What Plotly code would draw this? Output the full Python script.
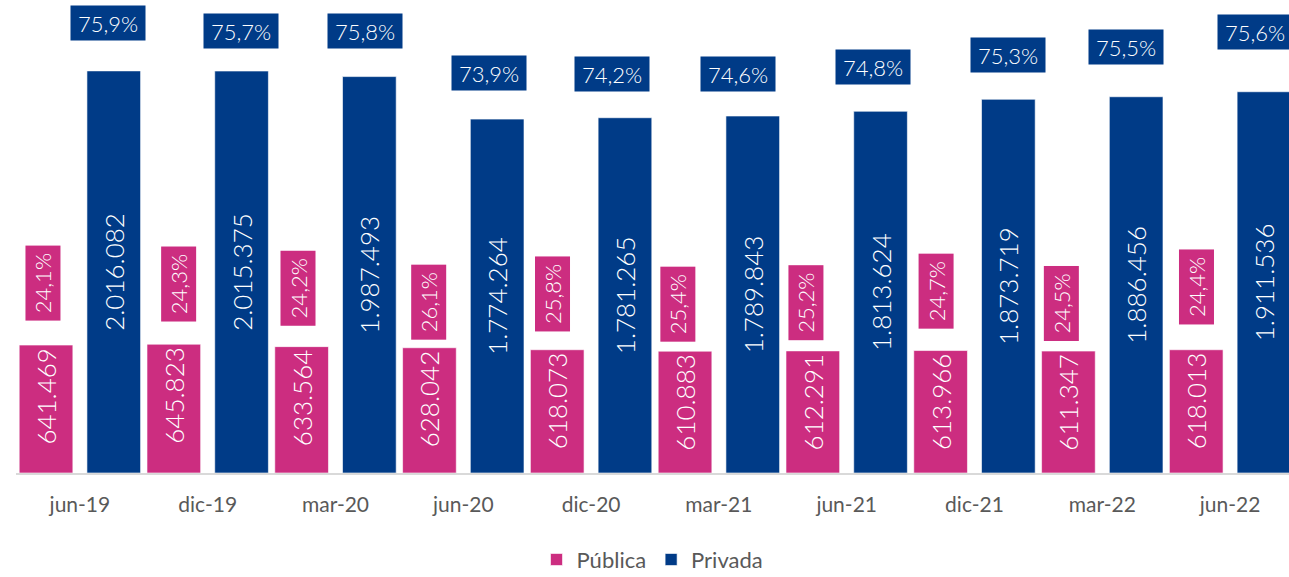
import plotly.graph_objects as go

# ---------------- data ----------------
periodos = ["jun-19", "dic-19", "mar-20", "jun-20", "dic-20",
            "mar-21", "jun-21", "dic-21", "mar-22", "jun-22"]
publica = [641469, 645823, 633564, 628042, 618073,
           610883, 612291, 613966, 611347, 618013]
privada = [2016082, 2015375, 1987493, 1774264, 1781265,
           1789843, 1813624, 1873719, 1886456, 1911536]
pct_publica = ["24,1%", "24,3%", "24,2%", "26,1%", "25,8%",
               "25,4%", "25,2%", "24,7%", "24,5%", "24,4%"]
pct_privada = ["75,9%", "75,7%", "75,8%", "73,9%", "74,2%",
               "74,6%", "74,8%", "75,3%", "75,5%", "75,6%"]

# ---------------- style ----------------
ROSA = "#CC2D80"
AZUL = "#003B87"
GRIS = "#595959"
FUENTE = "Lato"

ANCHO = 0.42
OFF_PUB = -0.475
OFF_PRIV = 0.055

# ajuste fino (px) de las etiquetas de porcentaje
gap_pub = [24, 22, 20, 8, 18, 9, 10, 21, 10, 25]
dx_pub = [-3, 5, -4, -1, -5, -7, -7, -5, -7, 0]
gap_priv = [30, 22, 28, 28, 26, 24, 26, 26, 32, 42]
dx_priv = [-6, -1, -4, -8, -13, -15, -8, 0, -10, -9]

x = list(range(len(periodos)))

fig = go.Figure()

fig.add_trace(
    go.Bar(
        x=x,
        y=publica,
        name="Pública",
        width=ANCHO,
        offset=OFF_PUB,
        marker=dict(color=ROSA, line=dict(color="rgba(255,255,255,0.6)", width=1)),
        texttemplate="%{y:,.0f}",
        textposition="inside",
        insidetextanchor="end",
        textangle=-90,
        textfont=dict(family=FUENTE, size=26, color="white", weight=300),
        hoverinfo="skip",
    )
)

fig.add_trace(
    go.Bar(
        x=x,
        y=privada,
        name="Privada",
        width=ANCHO,
        offset=OFF_PRIV,
        marker=dict(color=AZUL, line=dict(color="rgba(255,255,255,0.6)", width=1)),
        texttemplate="%{y:,.0f}",
        textposition="inside",
        insidetextanchor="middle",
        textangle=-90,
        textfont=dict(family=FUENTE, size=26, color="white", weight=300),
        hoverinfo="skip",
    )
)

# etiquetas de porcentaje en cajas
for i in x:
    fig.add_annotation(
        x=i + OFF_PUB + ANCHO / 2,
        y=publica[i],
        text=pct_publica[i],
        showarrow=False,
        xanchor="center",
        yanchor="bottom",
        xshift=dx_pub[i],
        yshift=gap_pub[i],
        textangle=-90,
        width=70,
        height=30,
        borderpad=2,
        bgcolor=ROSA,
        font=dict(family=FUENTE, size=22, color="white", weight=300),
    )
    fig.add_annotation(
        x=i + OFF_PRIV + ANCHO / 2,
        y=privada[i],
        text=pct_privada[i],
        showarrow=False,
        xanchor="center",
        yanchor="bottom",
        xshift=dx_priv[i],
        yshift=gap_priv[i],
        width=70,
        height=30,
        borderpad=2,
        bgcolor=AZUL,
        font=dict(family=FUENTE, size=22, color="white", weight=300),
    )

fig.update_layout(
    width=1289,
    height=577,
    barmode="overlay",
    separators=",.",
    plot_bgcolor="white",
    paper_bgcolor="white",
    margin=dict(l=16, r=0, t=0, b=104),
    font=dict(family=FUENTE, color=GRIS),
    legend=dict(
        orientation="h",
        x=0.5,
        xanchor="center",
        yref="container",
        y=0.03,
        yanchor="middle",
        font=dict(family=FUENTE, size=22, color=GRIS),
        itemwidth=30,
    ),
)

fig.update_xaxes(
    range=[-0.5, 9.461],
    tickvals=x,
    ticktext=periodos,
    tickfont=dict(family=FUENTE, size=21, color=GRIS),
    showline=True,
    linecolor="#D9D9D9",
    linewidth=2,
    showgrid=False,
    zeroline=False,
    ticks="outside",
    ticklen=12,
    tickcolor="rgba(0,0,0,0)",
)

fig.update_yaxes(
    range=[0, 2371500],
    visible=False,
    showgrid=False,
    zeroline=False,
)

fig.write_html(
    "out.html",
    config={"displayModeBar": False},
    post_script="document.body.style.margin='0';document.body.style.overflow='hidden';",
)
